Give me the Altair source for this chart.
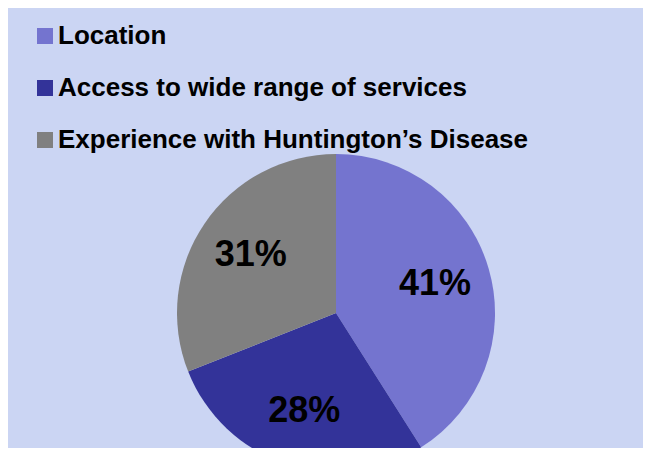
import altair as alt
import pandas as pd

categories = ["Location", "Access to wide range of services", "Experience with Huntington\u2019s Disease"]
values = [41, 28, 31]
labels = ["41%", "28%", "31%"]
colors = ["#7474CF", "#333399", "#808080"]
order = [0, 1, 2]

df = pd.DataFrame({"category": categories, "value": values, "label": labels, "order": order})

cx, cy = 328, 305

color_scale = alt.Scale(domain=categories, range=colors)

base = alt.Chart(df).encode(
    theta=alt.Theta("value:Q", stack=True),
    order=alt.Order("order:Q"),
)

pie = base.mark_arc(radius=159, stroke=None).encode(
    x=alt.value(cx),
    y=alt.value(cy),
    color=alt.Color(
        "category:N",
        scale=color_scale,
        sort=categories,
        legend=alt.Legend(
            title=None,
            orient="none",
            legendX=24,
            legendY=15,
            symbolType="square",
            symbolSize=256,
            symbolStrokeWidth=0,
            labelFont="Liberation Sans",
            labelFontWeight="bold",
            labelFontSize=26,
            labelColor="#000000",
            labelOffset=0,
            labelLimit=700,
            rowPadding=26,
            padding=0,
        ),
    ),
)

text = base.mark_text(
    radius=103,
    font="Liberation Sans",
    fontWeight="bold",
    fontSize=36,
    color="#000000",
    baseline="middle",
    align="center",
).encode(
    x=alt.value(cx),
    y=alt.value(cy),
    text="label:N",
)

chart = (
    alt.layer(pie, text)
    .properties(width=635, height=440, padding=0, autosize="none", background="#cbd5f3")
    .configure_view(stroke=None)
)

chart.save("out.html", embed_options={"renderer": "svg", "actions": False})
